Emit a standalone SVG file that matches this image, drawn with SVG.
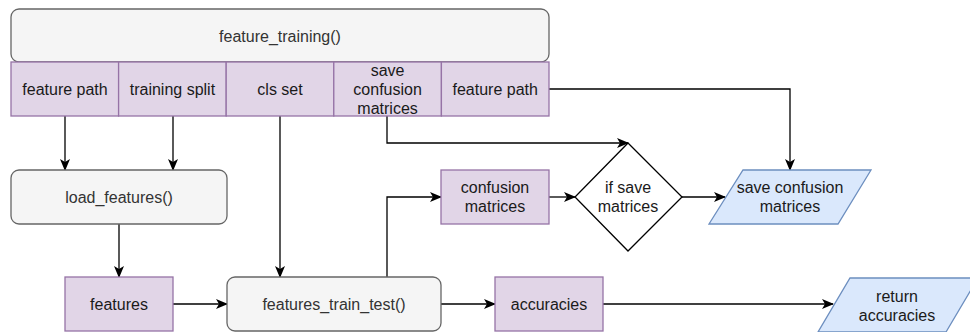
<svg xmlns="http://www.w3.org/2000/svg" width="970" height="332" viewBox="0 0 970 332">
  <style>
    text { font-family: "Liberation Sans", Arial, sans-serif; font-size: 16px; text-anchor: middle; dominant-baseline: central; }
    .proc { fill: #f5f5f5; stroke: #666666; stroke-width: 1.3; }
    .proc-t { fill: #333333; }
    .data { fill: #e1d5e7; stroke: #9673a6; stroke-width: 1.3; }
    .io { fill: #dae8fc; stroke: #6c8ebf; stroke-width: 1.3; }
    .dec { fill: #ffffff; stroke: #000000; stroke-width: 1.3; }
    .lbl { fill: #1a1a1a; }
    .edge { fill: none; stroke: #000000; stroke-width: 1.3; marker-end: url(#arrow); }
  </style>
  <defs>
    <marker id="arrow" viewBox="0 0 12 10" refX="11" refY="5" markerWidth="12" markerHeight="10" markerUnits="userSpaceOnUse" orient="auto">
      <path d="M0,0 L12,5 L0,10 L3,5 Z" fill="#000000"/>
    </marker>
  </defs>

  <rect width="970" height="332" fill="#ffffff"/>

  <!-- connectors -->
  <g id="connectors">
    <path class="edge" d="M65,116 V170"/>
    <path class="edge" d="M173,116 V170"/>
    <path class="edge" d="M280,116 V277"/>
    <path class="edge" d="M387,116 V143 H628"/>
    <path class="edge" d="M549,89 H790 V170"/>
    <path class="edge" d="M119,224 V277"/>
    <path class="edge" d="M173,304 H227"/>
    <path class="edge" d="M387,277 V197 H441"/>
    <path class="edge" d="M549,197 H575"/>
    <path class="edge" d="M682,197 H725"/>
    <path class="edge" d="M441,304 H495"/>
    <path class="edge" d="M603,304 H833"/>
  </g>

  <!-- top-level function -->
  <g id="feature_training">
    <rect class="proc" x="11" y="9" width="538" height="53" rx="8"/>
    <text class="proc-t" x="280" y="36">feature_training()</text>
  </g>

  <!-- parameter row -->
  <g id="param_feature_path">
    <rect class="data" x="11" y="62" width="107.6" height="54"/>
    <text class="lbl" x="65" y="89">feature path</text>
  </g>
  <g id="param_training_split">
    <rect class="data" x="118.6" y="62" width="107.6" height="54"/>
    <text class="lbl" x="172.4" y="89">training split</text>
  </g>
  <g id="param_cls_set">
    <rect class="data" x="226.2" y="62" width="107.6" height="54"/>
    <text class="lbl" x="280" y="89">cls set</text>
  </g>
  <g id="param_save_confusion">
    <rect class="data" x="333.8" y="62" width="107.6" height="54"/>
    <text class="lbl" x="387.6" y="70">save</text>
    <text class="lbl" x="387.6" y="89">confusion</text>
    <text class="lbl" x="387.6" y="108">matrices</text>
  </g>
  <g id="param_feature_path_2">
    <rect class="data" x="441.4" y="62" width="107.6" height="54"/>
    <text class="lbl" x="495.2" y="89">feature path</text>
  </g>

  <g id="load_features">
    <rect class="proc" x="11" y="170" width="216" height="54" rx="8"/>
    <text class="proc-t" x="119" y="197">load_features()</text>
  </g>

  <g id="features">
    <rect class="data" x="65" y="277" width="108" height="54"/>
    <text class="lbl" x="119" y="304">features</text>
  </g>

  <g id="features_train_test">
    <rect class="proc" x="227" y="277" width="214" height="54" rx="8"/>
    <text class="proc-t" x="334" y="304">features_train_test()</text>
  </g>

  <g id="confusion_matrices">
    <rect class="data" x="441" y="170" width="108" height="54"/>
    <text class="lbl" x="495" y="187.5">confusion</text>
    <text class="lbl" x="495" y="206.5">matrices</text>
  </g>

  <g id="if_save_matrices">
    <polygon class="dec" points="628,143 682,197 628,251 575,197"/>
    <text class="lbl" x="628" y="187.5">if save</text>
    <text class="lbl" x="628" y="206.5">matrices</text>
  </g>

  <g id="save_confusion_matrices">
    <polygon class="io" points="743,170 871,170 838,224 709,224"/>
    <text class="lbl" x="790" y="187.5">save confusion</text>
    <text class="lbl" x="790" y="206.5">matrices</text>
  </g>

  <g id="accuracies">
    <rect class="data" x="495" y="277" width="108" height="54"/>
    <text class="lbl" x="549" y="304">accuracies</text>
  </g>

  <g id="return_accuracies">
    <polygon class="io" points="850,278 978,278 946,332 818,332"/>
    <text class="lbl" x="897" y="296">return</text>
    <text class="lbl" x="897" y="315">accuracies</text>
  </g>
</svg>
